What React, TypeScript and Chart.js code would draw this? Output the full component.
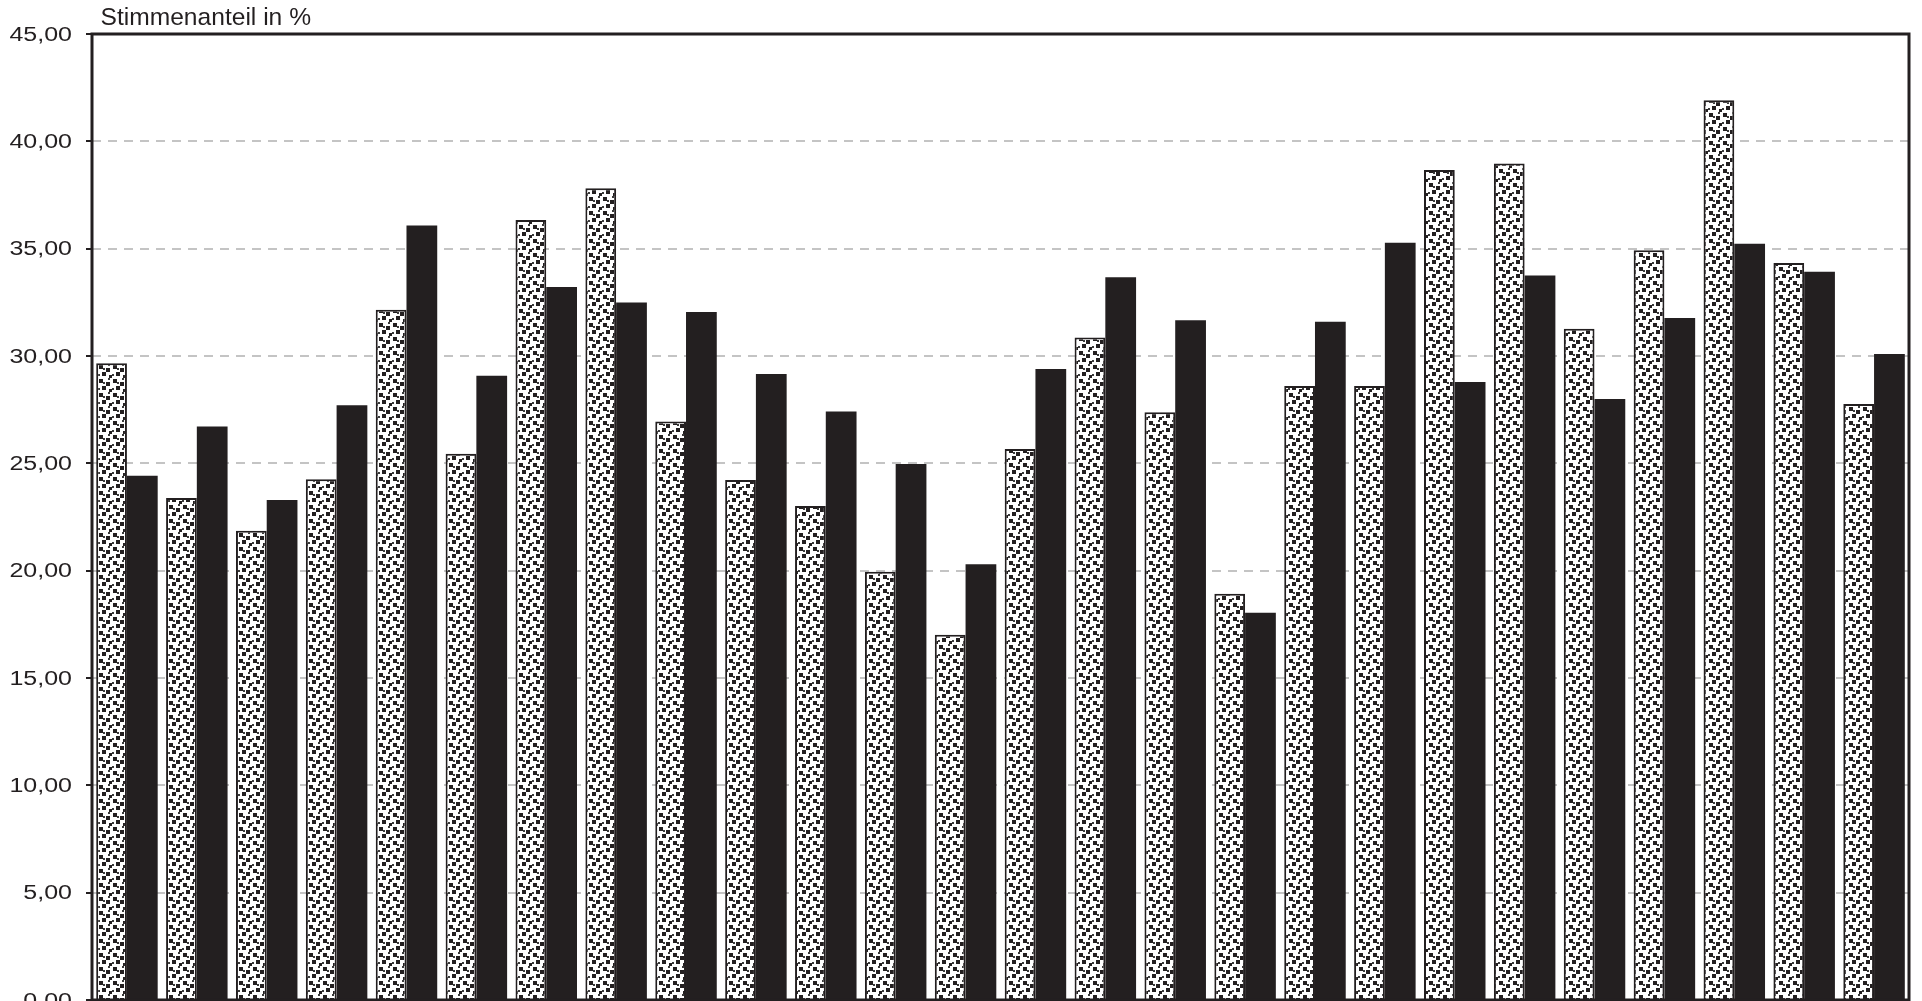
import React, { useEffect, useRef } from 'react';
import { Chart, registerables } from 'chart.js';

Chart.register(...registerables);

// ---- data ----
const categories = ['1', '2', '3', '4', '5', '6', '7', '8', '9', '10', '11', '12', '13', '14', '15', '16', '17', '18', '19', '20', '21', '22', '23', '24', '25', '26'];
const seriesDotted = [29.66, 23.39, 21.86, 24.26, 32.15, 25.45, 36.33, 37.81, 26.95, 24.22, 23.01, 19.95, 17.02, 25.67, 30.86, 27.38, 18.92, 28.6, 28.6, 38.67, 38.97, 31.27, 34.93, 41.91, 34.33, 27.76];
const seriesSolid = [24.42, 26.72, 23.29, 27.7, 36.08, 29.08, 33.22, 32.49, 32.05, 29.16, 27.41, 24.97, 20.3, 29.39, 33.67, 31.67, 18.04, 31.6, 35.28, 28.79, 33.75, 28.0, 31.77, 35.23, 33.93, 30.09];
const seriesNames = ['Reihe 1', 'Reihe 2'];
const yMin = 0;
const yMax = 45;
const yStep = 5;
const yAxisTitle = 'Stimmenanteil in %';

const INK = '#231f20';
const GRID = '#c4c4c4';

const fmt = (v: number) => v.toFixed(2).replace('.', ',');

function makePattern(): CanvasPattern | string {
  const s = 14;
  const c = document.createElement('canvas');
  c.width = s;
  c.height = s;
  const g = c.getContext('2d');
  if (!g) return '#888';
  g.fillStyle = '#ffffff';
  g.fillRect(0, 0, s, s);
  g.fillStyle = INK;
  g.fillRect(1, 1, 4, 4);
  g.fillRect(8, 4, 4, 4);
  g.fillRect(4, 8, 4, 4);
  g.fillRect(11, 11, 3, 3);
  g.fillStyle = '#3a3a3a';
  g.fillRect(5, 4, 2, 2);
  g.fillRect(10, 0, 2, 2);
  g.fillRect(0, 10, 2, 2);
  const p = g.createPattern(c, 'repeat');
  return p || '#888';
}

const decorPlugin = {
  id: 'decor',
  afterDatasetsDraw(chart: any) {
    const { ctx, chartArea: a } = chart;
    ctx.save();
    ctx.strokeStyle = INK;
    ctx.lineWidth = 3;
    ctx.strokeRect(a.left, a.top, a.right - a.left, a.bottom - a.top);
    ctx.restore();
  },
  afterDraw(chart: any) {
    const { ctx, chartArea: a } = chart;
    const ys = chart.scales.y;
    ctx.save();
    ctx.fillStyle = INK;
    ctx.font = '20px "Liberation Sans", Arial, sans-serif';
    ctx.textAlign = 'right';
    ctx.textBaseline = 'middle';
    ys.ticks.forEach((t: any) => {
      const py = ys.getPixelForValue(t.value);
      ctx.save();
      ctx.translate(a.left - 20, py + 1);
      ctx.scale(1.25, 1);
      ctx.fillText(fmt(t.value), 0, 0);
      ctx.restore();
    });
    ctx.font = '24.6px "Liberation Sans", Arial, sans-serif';
    ctx.textAlign = 'left';
    ctx.textBaseline = 'alphabetic';
    ctx.fillText(yAxisTitle, a.left + 8.5, a.top - 9.5);
    ctx.restore();
  },
};

export default function App() {
  const ref = useRef<HTMLCanvasElement | null>(null);

  useEffect(() => {
    if (!ref.current) return;
    const pattern = makePattern();
    const chart = new Chart(ref.current, {
      type: 'bar',
      data: {
        labels: categories,
        datasets: [
          {
            label: seriesNames[0],
            data: seriesDotted,
            backgroundColor: pattern as any,
            borderColor: INK,
            borderWidth: 2,
            categoryPercentage: 0.88,
            barPercentage: 1.0,
          },
          {
            label: seriesNames[1],
            data: seriesSolid,
            backgroundColor: INK,
            borderWidth: 0,
            categoryPercentage: 0.88,
            barPercentage: 1.0,
          },
        ],
      },
      options: {
        animation: false,
        responsive: false,
        devicePixelRatio: 1,
        layout: { padding: { top: 34, right: 13, bottom: 40, left: 0 } },
        plugins: {
          legend: { display: false },
          tooltip: { enabled: false },
          title: { display: false },
        },
        scales: {
          x: {
            display: false,
            offset: true,
          },
          y: {
            min: yMin,
            max: yMax,
            ticks: { stepSize: yStep, display: false },
            border: { display: false, dash: [9, 7] },
            grid: {
              color: GRID,
              lineWidth: 2,
              drawTicks: true,
              tickLength: 6,
              tickColor: INK,
              tickWidth: 2,
              tickBorderDash: [],
            } as any,
            afterFit: (scale: any) => {
              scale.width = 92;
            },
          },
        },
      },
      plugins: [decorPlugin],
    } as any);
    return () => chart.destroy();
  }, []);

  return (
    <div style={{ position: 'fixed', left: 0, top: 0, width: '1922px', height: '1001px', overflow: 'hidden', background: '#fff' }}>
      <canvas ref={ref} width={1922} height={1040} style={{ width: '1922px', height: '1040px', display: 'block' }} />
    </div>
  );
}
